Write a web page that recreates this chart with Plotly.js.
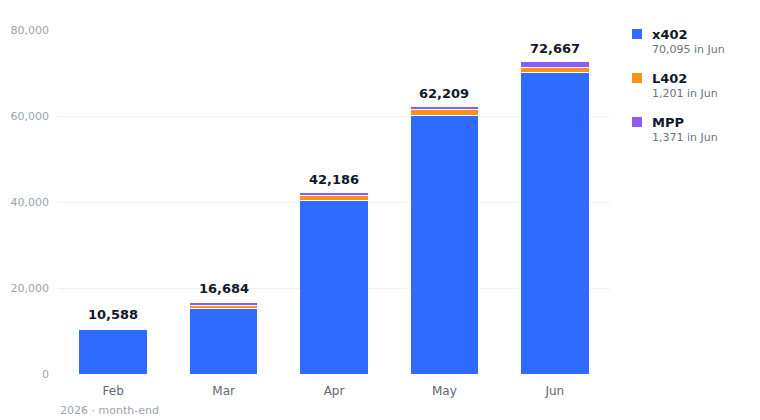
<!DOCTYPE html>
<html>
<head>
<meta charset="utf-8">
<script src="https://cdn.plot.ly/plotly-3.0.1.min.js"></script>
<style>
  html, body { margin: 0; padding: 0; background: #fff; }
  #chart { width: 760px; height: 420px; }
</style>
</head>
<body>
<div id="chart"></div>
<script>
var months = ["Feb", "Mar", "Apr", "May", "Jun"];
var x402 = [10438, 15184, 40256, 60109, 70095];
var l402 = [150, 700, 1160, 1350, 1201];
var mpp = [0, 800, 770, 750, 1371];
var seriesNames = ["x402", "L402", "MPP"];
var seriesColors = ["#2f6bff", "#f7931a", "#8b5cf6"];

var seriesValues = [x402, l402, mpp];
var totals = months.map(function (m, i) { return x402[i] + l402[i] + mpp[i]; });

var data = seriesValues.map(function (vals, k) {
  return {
    type: "bar",
    x: months,
    y: vals,
    name: seriesNames[k],
    marker: { color: seriesColors[k], line: { color: "#ffffff", width: 1 } },
    hoverinfo: "skip"
  };
});

// plot area in px, used to place the side legend
var L = 58, R = 150, T = 30, B = 46, W = 760, H = 420;
var pw = W - L - R, ph = H - T - B;
function px(x) { return (x - L) / pw; }
function py(y) { return (H - B - y) / ph; }

var annotations = months.map(function (m, i) {
  return {
    x: m, y: totals[i], xref: "x", yref: "y",
    text: "<b>" + totals[i].toLocaleString("en-US") + "</b>",
    showarrow: false, yanchor: "bottom", yshift: 4,
    font: { family: "DejaVu Sans", size: 13, color: "#111827" }
  };
});

var shapes = [];
var last = months.length - 1;
seriesNames.forEach(function (name, k) {
  var cy = 34 + k * 44;
  shapes.push({
    type: "rect", xref: "paper", yref: "paper",
    x0: px(632), x1: px(642), y0: py(cy + 5), y1: py(cy - 5),
    fillcolor: seriesColors[k], line: { width: 0 }
  });
  annotations.push({
    x: px(650), y: py(cy), xref: "paper", yref: "paper",
    xanchor: "left", yanchor: "middle", showarrow: false,
    text: "<b>" + name + "</b>",
    font: { family: "DejaVu Sans", size: 13, color: "#111827" }
  });
  annotations.push({
    x: px(650), y: py(cy + 15), xref: "paper", yref: "paper",
    xanchor: "left", yanchor: "middle", showarrow: false,
    text: seriesValues[k][last].toLocaleString("en-US") + " in " + months[last],
    font: { family: "DejaVu Sans", size: 11, color: "#6b7280" }
  });
});

annotations.push({
  x: 0, y: py(410), xref: "paper", yref: "paper",
  xanchor: "left", yanchor: "middle", showarrow: false,
  text: "2026 · month-end",
  font: { family: "DejaVu Sans", size: 11, color: "#9aa3b0" }
});

var layout = {
  width: W, height: H,
  barmode: "stack",
  bargap: 0.38,
  showlegend: false,
  paper_bgcolor: "#ffffff",
  plot_bgcolor: "#ffffff",
  margin: { l: L, r: R, t: T, b: B },
  font: { family: "DejaVu Sans", color: "#555" },
  xaxis: {
    tickfont: { size: 12, color: "#5f6673" },
    showgrid: false, zeroline: false, showline: false, ticks: "",
    ticklabelstandoff: 8
  },
  yaxis: {
    range: [0, 80000],
    dtick: 20000,
    tickformat: ",d",
    tickfont: { size: 11, color: "#9aa3b0" },
    gridcolor: "#eef2f7",
    zeroline: false, showline: false, ticks: "",
    ticklabelstandoff: 8
  },
  annotations: annotations,
  shapes: shapes
};

Plotly.newPlot("chart", data, layout, { displayModeBar: false, staticPlot: true });
</script>
</body>
</html>
